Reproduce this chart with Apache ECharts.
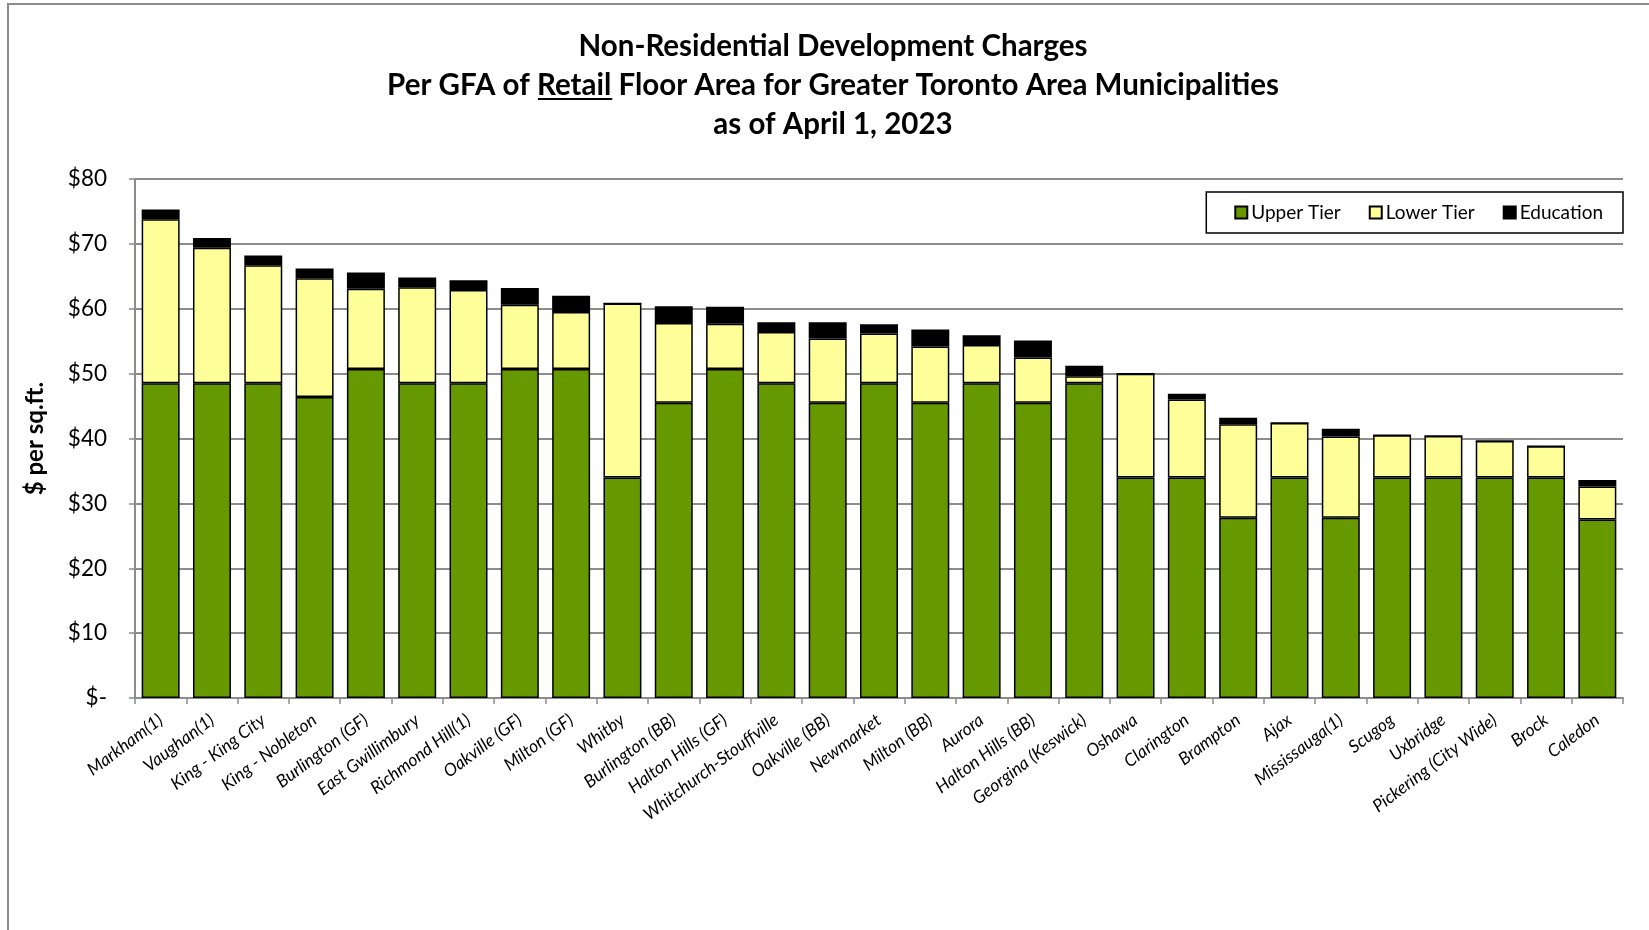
<!DOCTYPE html>
<html>
<head>
<meta charset="utf-8">
<script src="https://cdn.jsdelivr.net/npm/echarts@6/dist/echarts.min.js"></script>
<style>
  html, body { margin: 0; padding: 0; background: #fff; }
  #chart { width: 1649px; height: 930px; }
</style>
</head>
<body>
<div id="chart"></div>
<script>
// municipalities, sorted by total charge
const categories = [
  'Markham(1)', 'Vaughan(1)', 'King - King City', 'King - Nobleton', 'Burlington (GF)',
  'East Gwillimbury', 'Richmond Hill(1)', 'Oakville (GF)', 'Milton (GF)', 'Whitby',
  'Burlington (BB)', 'Halton Hills (GF)', 'Whitchurch-Stouffville', 'Oakville (BB)', 'Newmarket',
  'Milton (BB)', 'Aurora', 'Halton Hills (BB)', 'Georgina (Keswick)', 'Oshawa',
  'Clarington', 'Brampton', 'Ajax', 'Mississauga(1)', 'Scugog',
  'Uxbridge', 'Pickering (City Wide)', 'Brock', 'Caledon'
];
const upperTier = [48.5, 48.5, 48.5, 46.4, 50.7, 48.5, 48.5, 50.7, 50.7, 34.0,
  45.5, 50.7, 48.5, 45.5, 48.5, 45.5, 48.5, 45.5, 48.5, 34.0,
  34.0, 27.8, 34.0, 27.8, 34.0, 34.0, 34.0, 34.0, 27.5];
const lowerTier = [25.3, 20.9, 18.2, 18.3, 12.4, 14.8, 14.4, 9.9, 8.8, 26.8,
  12.3, 7.0, 7.9, 9.9, 7.7, 8.7, 5.9, 7.0, 1.1, 16.0,
  12.0, 14.4, 8.4, 12.5, 6.5, 6.4, 5.6, 4.8, 5.1];
const education = [1.5, 1.5, 1.5, 1.5, 2.5, 1.5, 1.5, 2.6, 2.5, 0,
  2.6, 2.6, 1.5, 2.5, 1.4, 2.6, 1.5, 2.6, 1.6, 0,
  0.9, 1.0, 0, 1.2, 0, 0, 0, 0, 1.0];

const font = 'Lato, "Open Sans", sans-serif';
const titleSize = 29.5;
const titleCenter = 828;

// where "Retail" sits on the second title line, for the underline
const ctx = document.createElement('canvas').getContext('2d');
ctx.font = 'bold ' + titleSize + 'px ' + font;
const line2 = 'Per GFA of Retail Floor Area for Greater Toronto Area Municipalities';
const lineStart = titleCenter - ctx.measureText(line2).width / 2;
const ulX1 = lineStart + ctx.measureText('Per GFA of ').width + 6;
const ulX2 = ulX1 + ctx.measureText('Retail').width;

function barSeries (name, data, color) {
  return {
    name: name,
    type: 'bar',
    stack: 'total',
    barCategoryGap: '26%',
    data: data,
    itemStyle: {
      color: color,
      borderColor: '#000',
      borderWidth: 1.5
    }
  };
}

const myChart = echarts.init(document.getElementById('chart'));
myChart.setOption({
  animation: false,
  backgroundColor: '#fff',
  textStyle: { fontFamily: font },
  title: {
    left: titleCenter,
    textAlign: 'center',
    top: 22,
    text: '{a|Non-Residential Development Charges}\n{a|' + line2 + '}\n{a|as of April 1, 2023}',
    textStyle: {
      rich: {
        a: { fontFamily: font, fontWeight: 'bold', fontSize: titleSize, lineHeight: 39, color: '#000' }
      }
    }
  },
  graphic: [
    {
      type: 'rect',
      shape: { x: 8, y: 4, width: 1700, height: 1000 },
      style: { fill: 'none', stroke: '#8c8c8c', lineWidth: 2 },
      silent: true
    },
    {
      type: 'line',
      shape: { x1: ulX1, y1: 99, x2: ulX2, y2: 99 },
      style: { stroke: '#000', lineWidth: 2 },
      silent: true
    }
  ],
  legend: {
    right: 26,
    top: 192,
    orient: 'horizontal',
    icon: 'rect',
    itemWidth: 12,
    itemHeight: 12,
    itemGap: 28,
    padding: [11, 20, 11, 28],
    borderColor: '#000',
    borderWidth: 1.5,
    textStyle: { fontFamily: font, fontSize: 19, color: '#000', padding: [0, 0, 0, -1] },
    data: ['Upper Tier', 'Lower Tier', 'Education']
  },
  grid: {
    left: 135,
    right: 26,
    top: 179,
    bottom: 232
  },
  xAxis: {
    type: 'category',
    data: categories,
    axisLine: { lineStyle: { color: '#8c8c8c', width: 2 } },
    axisTick: { show: true, length: 6, lineStyle: { color: '#8c8c8c', width: 1.5 } },
    axisLabel: {
      interval: 0,
      rotate: 37,
      margin: 20,
      fontFamily: font,
      fontStyle: 'italic',
      fontSize: 17.5,
      color: '#000'
    }
  },
  yAxis: {
    type: 'value',
    min: 0,
    max: 80,
    interval: 10,
    name: '$ per sq.ft.',
    nameLocation: 'middle',
    nameGap: 88,
    nameRotate: 90,
    nameTextStyle: { fontFamily: font, fontWeight: 'bold', fontSize: 24, color: '#000' },
    axisLine: { show: true, lineStyle: { color: '#8c8c8c', width: 2 } },
    axisTick: { show: true, length: 6, lineStyle: { color: '#8c8c8c', width: 1.5 } },
    splitLine: { lineStyle: { color: '#8c8c8c', width: 2 } },
    axisLabel: {
      margin: 28,
      fontFamily: font,
      fontSize: 22.5,
      color: '#000',
      formatter: function (v) { return v === 0 ? '$-' : '$' + v; }
    }
  },
  series: [
    barSeries('Upper Tier', upperTier, '#669900'),
    barSeries('Lower Tier', lowerTier, '#FFFF99'),
    barSeries('Education', education, '#000000')
  ]
});
</script>
</body>
</html>
